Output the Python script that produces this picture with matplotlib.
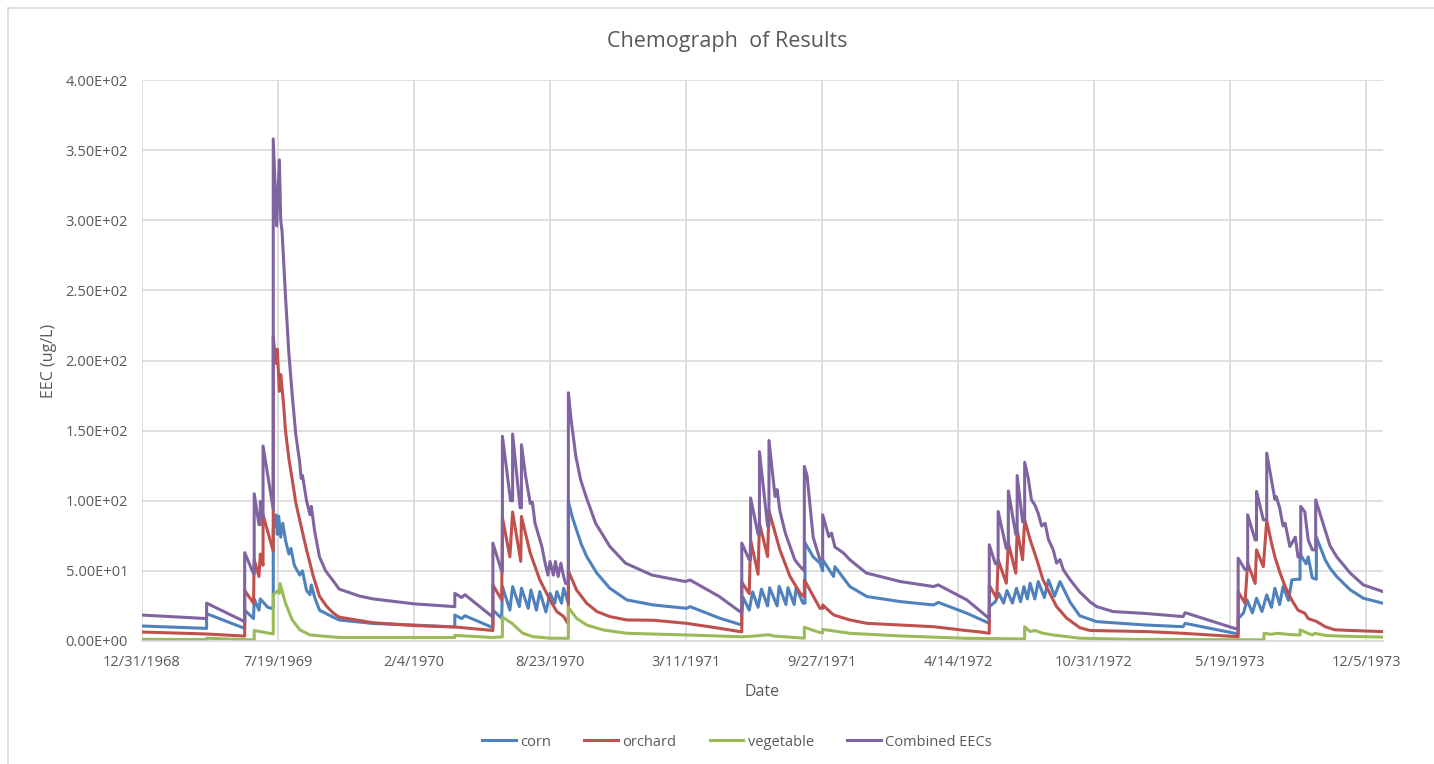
import matplotlib
matplotlib.use("Agg")
import matplotlib.pyplot as plt
import matplotlib.lines as mlines
import pandas as pd
import numpy as np

START = pd.Timestamp("1968-12-31")

# ---- data: (days since 12/31/1968, EEC ug/L) ----
corn_days = [0, 95, 95, 151, 151, 164, 165, 172, 174, 185, 193, 193, 197, 199, 201, 204, 207, 211, 216, 219, 224,
             232, 236, 242, 247, 249, 254, 261, 281, 290, 340, 400, 460, 460, 470, 475, 516, 516, 529, 530, 541,
             545, 555, 558, 568, 572, 580, 585, 594, 600, 607, 610, 617, 620, 627, 627, 633, 639, 646, 654, 669, 688, 713,
             752, 801, 806, 850, 882, 882, 884, 893, 898, 906, 911, 920, 923, 934, 937, 947, 950, 959, 962, 972,
             975, 975, 987, 997, 1001, 1001, 1017, 1019, 1041, 1066, 1115, 1164, 1171, 1213, 1246, 1246, 1255,
             1260, 1267, 1272, 1280, 1286, 1292, 1297, 1302, 1306, 1313, 1318, 1327, 1333, 1342, 1350, 1365,
             1379, 1394, 1404, 1476, 1531, 1534, 1612, 1612, 1620, 1625, 1633, 1639, 1647, 1654, 1661, 1666,
             1673, 1678, 1686, 1691, 1698, 1703, 1703, 1712, 1715, 1721, 1727, 1727, 1740, 1747, 1757, 1777,
             1796, 1825]
corn_vals = [10.7, 9.0, 19.5, 9.0, 22, 16, 30, 22, 30, 24, 23, 80, 90, 76, 89, 74, 84, 72, 62, 66, 54,
             47, 50, 36, 33, 40, 31, 22, 17, 15, 12.5, 11.4, 10, 18.5, 16, 18, 9.5, 22, 16.2, 38.8, 22,
             38.8, 24.5, 37.6, 23.3, 36.4, 22, 35.2, 20.7, 34, 26.9, 35.2, 27, 37.6, 27, 99.5, 88, 79.3, 69, 60.2, 48.3, 37.6, 29.3,
             25.7, 23.3, 24.5, 16.2, 11.4, 20, 31, 22, 35, 24, 37, 25, 38, 25, 39, 26, 38, 26, 38, 27,
             27, 70, 60, 55.5, 50, 58, 46, 53, 38.8, 31.7, 28.1, 25.7, 27.5, 19.8, 12.6, 24.5, 28,
             34, 27, 36, 27, 37.6, 28, 38.8, 30, 41.2, 30, 42.4, 31, 43.6, 32, 42.4, 27.6,
             18, 15.5, 13.8, 11.4, 10.2, 12.6, 5, 16, 20, 29.3, 20, 30.5, 21, 32.9, 24, 37.6,
             26, 38.8, 29, 43.6, 44, 44, 62, 55, 60, 45, 44, 74, 57.9, 52, 45.9, 36.4,
             30.5, 26.9]

orchard_days = [0, 95, 151, 151, 164, 165, 172, 174, 178, 178, 193, 193, 197, 199, 202, 204, 208, 211, 216, 221, 226, 232,
                242, 252, 261, 271, 281, 290, 340, 400, 460, 516, 516, 529, 530, 541, 545, 557, 558, 571, 585, 600,
                610, 620, 627, 627, 639, 654, 669, 688, 713, 752, 801, 850, 882, 882, 893, 895, 906, 908, 920,
                922, 938, 953, 968, 974, 974, 997, 1001, 1001, 1017, 1041, 1066, 1115, 1164, 1213, 1232, 1246,
                1246, 1257, 1259, 1271, 1274, 1285, 1287, 1295, 1298, 1306, 1316, 1325, 1335, 1345, 1360, 1379,
                1394, 1478, 1531, 1610, 1612, 1612, 1622, 1626, 1637, 1639, 1649, 1654, 1661, 1666, 1674, 1681,
                1691, 1700, 1710, 1715, 1727, 1740, 1754, 1777, 1825]
orchard_vals = [6.4, 5, 3.5, 36, 27, 58, 46, 62, 54, 90, 64, 217, 198, 208, 178, 190, 170, 150, 130, 115, 99, 86,
                65, 46, 32, 25, 20, 17, 13, 11, 10, 7.5, 40, 29.3, 88, 60, 92, 56.7, 88.8, 62.6, 43.6, 29.3,
                21, 17.5, 12, 50, 36.4, 26.9, 21, 17.4, 15, 14.8, 12.6, 9, 6.5, 42, 33.8, 72, 47.6, 84, 60.2,
                93, 65, 46, 34, 31.7, 43.6, 23.3, 23.3, 25.7, 18.6, 15, 12.6, 11.4, 10.2, 7.4, 6.5, 5.5,
                39.8, 30.2, 57.9, 41.2, 69.8, 48.3, 79.3, 57.9, 86.4, 72.4, 57.9, 43.6, 34, 24.5, 16.2, 9.5,
                7.5, 6.7, 5.5, 3.1, 2.8, 35, 27, 55.5, 41, 65, 53, 86, 70, 60, 48, 39,
                29, 22, 19.8, 16, 14, 10.2, 8, 7.5, 6.7]

vegetable_days = [0, 95, 95, 151, 165, 165, 193, 193, 200, 202, 203, 211, 221, 232, 247, 290, 400, 460, 460, 516,
                  530, 530, 544, 560, 575, 600, 627, 627, 639, 654, 678, 713, 801, 882, 900, 921, 930, 960, 974,
                  974, 997, 1001, 1001, 1041, 1115, 1213, 1298, 1298, 1306, 1313, 1325, 1340, 1379, 1450, 1650,
                  1650, 1660, 1670, 1690, 1703, 1703, 1712, 1721, 1725, 1740, 1760, 1825]
vegetable_vals = [1.2, 1, 2, 1, 0.8, 7.5, 5, 33, 36, 34, 41, 27, 15, 8, 4.3, 2.5, 2.5, 2.5, 4, 2.5,
                  3, 17, 12.6, 5.5, 3.1, 2, 1.9, 24, 16.2, 11.4, 7.9, 5.5, 4.3, 3, 3.5, 4.5, 3.5, 2.5, 2,
                  9.8, 6, 6, 8.3, 5.5, 3.6, 1.9, 1.5, 10.2, 6.7, 7.5, 5.5, 4.3, 2, 1.2, 0.8,
                  5.5, 4.8, 5.5, 4.5, 4.3, 8, 6, 4.3, 5.5, 4, 3.5, 2.8]

combined_days = [0, 95, 95, 151, 151, 164, 165, 165, 172, 174, 174, 178, 178, 193, 193, 198, 202, 204, 206, 211,
                 216, 221, 226, 232, 234, 236, 242, 247, 249, 254, 261, 270, 281, 290, 320, 340, 400, 460, 460, 470, 475,
                 516, 516, 529, 530, 530, 542, 545, 545, 556, 558, 558, 564, 571, 574, 578, 588, 593, 597, 600,
                 605, 608, 612, 616, 620, 623, 627, 627, 631, 638, 645, 653, 667, 688, 711, 750, 799, 806, 849, 882,
                 882, 893, 895, 895, 906, 908, 908, 920, 922, 922, 931, 934, 938, 946, 953, 960, 968, 974, 974,
                 978, 987, 997, 1001, 1001, 1010, 1014, 1019, 1031, 1041, 1065, 1115, 1164, 1171, 1213, 1246,
                 1246, 1255, 1259, 1259, 1271, 1274, 1274, 1285, 1287, 1287, 1295, 1298, 1298, 1303, 1308,
                 1313, 1318, 1323, 1328, 1333, 1340, 1345, 1350, 1355, 1365, 1379, 1394, 1404, 1428, 1477,
                 1531, 1534, 1610, 1612, 1612, 1622, 1626, 1626, 1637, 1639, 1639, 1649, 1654, 1654, 1661,
                 1666, 1668, 1673, 1678, 1681, 1688, 1696, 1700, 1704, 1704, 1710, 1715, 1721, 1726, 1726,
                 1740, 1747, 1757, 1777, 1796, 1825]
combined_vals = [18.5, 16, 27, 13.8, 63, 48, 48, 105, 83, 83, 99.5, 88, 139, 94, 358, 296, 343, 300, 292, 246,
                 205, 175, 148, 127, 116, 118, 100, 90, 96, 78, 60, 50, 43, 37, 32, 30, 26.5, 24.5, 34, 31, 33,
                 17, 69.8, 49.5, 49.5, 146, 100, 100, 147.6, 95, 95, 140, 118, 98, 99, 84, 67.4, 55, 47, 56.7,
                 47, 56.7, 46, 55.5, 46, 41, 41, 177, 158, 131.6, 115, 103, 84, 67.4, 55.5, 47, 42.4, 43.5, 31.7, 20,
                 69.8, 58, 58, 102, 76, 76, 135, 82, 82, 143, 103, 108, 93, 77, 67.4, 57.9, 53, 50, 124.5,
                 118, 74, 58, 58, 90, 74.4, 77, 67, 63, 57.9, 48.5, 42.4, 38.8, 40, 29.3, 16,
                 68.6, 55, 55, 92.4, 66, 66, 107, 76, 76, 118, 85, 85, 127.4, 117, 100.7,
                 97, 91, 82, 84, 72.4, 65, 55.5, 58, 50.7, 43.6, 35, 28, 24.5, 21, 19.6,
                 17.4, 20.2, 8.5, 8.5, 59, 51, 51, 90, 72, 72, 106.7, 86.4, 86.4, 134, 115,
                 101, 103, 95, 82, 84, 67.4, 74, 60, 60, 96, 92, 72, 65, 65, 100.7,
                 79, 68, 60, 48.3, 40, 35.2]

series_names = ["corn", "orchard", "vegetable", "Combined EECs"]
series_colors = ["#4F81BD", "#C0504D", "#9BBB59", "#8064A2"]
y_ticks = [0, 50, 100, 150, 200, 250, 300, 350, 400]
x_tick_labels = ["12/31/1968", "7/19/1969", "2/4/1970", "8/23/1970", "3/11/1971",
                 "9/27/1971", "4/14/1972", "10/31/1972", "5/19/1973", "12/5/1973"]

def to_dates(days):
    return START + pd.to_timedelta(np.asarray(days, dtype=float), unit="D")

series = [(corn_days, corn_vals), (orchard_days, orchard_vals),
          (vegetable_days, vegetable_vals), (combined_days, combined_vals)]

plt.rcParams['font.family'] = ['Open Sans', 'DejaVu Sans']
fig = plt.figure(figsize=(14.34, 7.64), dpi=100)
ax = fig.add_axes([142/1434, 1-641/764, (1383-142)/1434, (641-80)/764])

handles = []
for (d, v), name, col in zip(series, series_names, series_colors):
    h, = ax.plot(to_dates(d), v, color=col, lw=2.2, solid_joinstyle="round", label=name)
    handles.append(h)

tick_dates = pd.to_datetime(x_tick_labels, format="%m/%d/%Y")
ax.set_xticks(tick_dates)
ax.set_xticklabels(x_tick_labels)
ax.set_xlim(tick_dates[0], pd.Timestamp("1973-12-30"))
ax.set_ylim(0, 400)
ax.set_yticks(y_ticks)
ax.set_yticklabels([f"{t:.2E}" for t in y_ticks])

grid_col = "#D9D9D9"
ax.grid(True, color=grid_col, lw=1.2)
ax.set_axisbelow(True)
for s in ["top", "right", "left"]:
    ax.spines[s].set_visible(False)
ax.spines["bottom"].set_color(grid_col)
ax.spines["bottom"].set_linewidth(1.2)
ax.tick_params(axis="both", length=0, colors="#595959", labelsize=10.5)
ax.tick_params(axis="x", pad=10)
ax.tick_params(axis="y", pad=10)

ax.set_xlabel("Date", color="#595959", fontsize=11.5, labelpad=10)
ax.set_ylabel("EEC (ug/L)", color="#595959", fontsize=11.5, labelpad=6)

fig.text(727/1434, 1-42/764, "Chemograph  of Results", ha="center", va="center",
         fontsize=15.5, color="#595959")

leg = fig.legend(handles=handles, labels=series_names, loc="center", bbox_to_anchor=(737/1434, 1-742/764),
                 ncol=4, frameon=False, fontsize=10.5, handlelength=2.3, columnspacing=2.3, handletextpad=0.3)
for t in leg.get_texts():
    t.set_color("#595959")

# chart-area border
fig.add_artist(mlines.Line2D([8/1434, 1], [1-8/764, 1-8/764], transform=fig.transFigure, color="#D9D9D9", lw=1.2))
fig.add_artist(mlines.Line2D([8/1434, 8/1434], [0, 1-8/764], transform=fig.transFigure, color="#D9D9D9", lw=1.2))

fig.savefig("out.png", dpi=100)
